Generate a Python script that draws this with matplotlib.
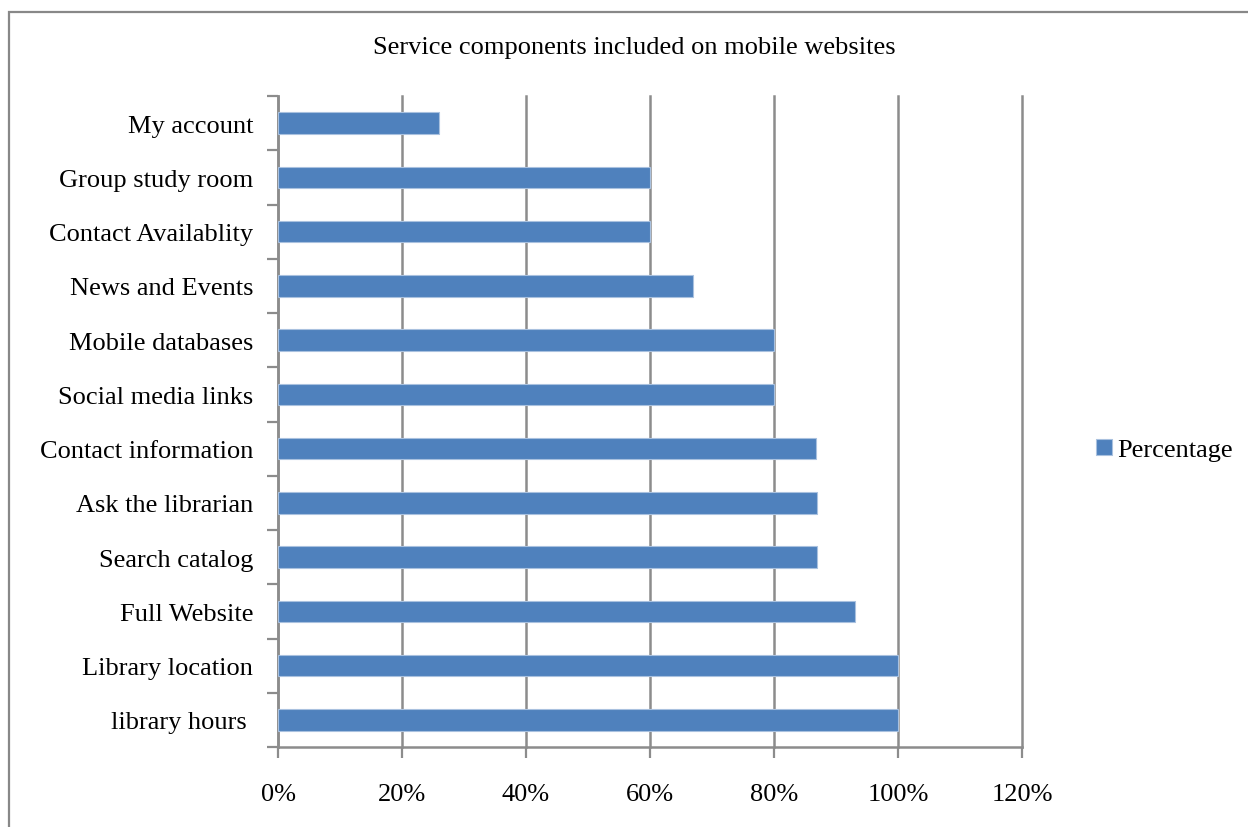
import matplotlib.pyplot as plt
from matplotlib.patches import Rectangle
from matplotlib.ticker import FuncFormatter, FixedLocator

# Componentes de serviço nos sites móveis (de baixo para cima)
components = ["library hours ", "Library location", "Full Website", "Search catalog",
              "Ask the librarian", "Contact information", "Social media links",
              "Mobile databases", "News and Events", "Contact Availablity",
              "Group study room", "My account"]
percentages = [1.00, 1.00, 0.93, 0.87, 0.87, 0.867, 0.80, 0.80, 0.67, 0.60, 0.60, 0.26]
x_ticks = [0.0, 0.2, 0.4, 0.6, 0.8, 1.0, 1.2]

plt.rcParams['font.family'] = ['Liberation Serif', 'DejaVu Serif']

fig = plt.figure(figsize=(12.48, 8.28), dpi=100)
ax = fig.add_axes([278 / 1248, 1 - 748 / 828, (1022 - 278) / 1248, (748 - 97) / 828])

# moldura cinza do gráfico
fig.patches.append(Rectangle((9 / 1248, -0.05), 1.1, 1 - 13 / 828 + 0.05,
                             transform=fig.transFigure, fill=False,
                             edgecolor="#888888", linewidth=1.6))

positions = list(range(len(components)))
ax.barh(positions, percentages, height=0.4, color="#4F81BD",
        edgecolor="#A9C1DF", linewidth=0.8, label="Percentage", zorder=3)

ax.set_xlim(0, 1.2)
ax.set_ylim(-0.5, len(components) - 0.5)
ax.set_xticks(x_ticks)
ax.xaxis.set_major_formatter(FuncFormatter(lambda v, p: f"{v * 100:.0f}%"))
ax.grid(axis="x", color="#8C8C8C", linewidth=1.8, zorder=0)
for line in ax.get_xgridlines():
    line.set_clip_on(False)

# rótulos no centro, marcas nos limites das categorias
ax.set_yticks(positions)
ax.set_yticklabels(components)
ax.yaxis.set_minor_locator(FixedLocator([p - 0.5 for p in range(len(components) + 1)]))
ax.tick_params(axis="y", which="major", length=0, pad=18, labelsize=19)
ax.tick_params(axis="y", which="minor", length=8, width=1.6, color="#8C8C8C")
ax.tick_params(axis="x", length=8, width=1.6, color="#8C8C8C", pad=18, labelsize=19)

for side in ["top", "right"]:
    ax.spines[side].set_visible(False)
for side in ["left", "bottom"]:
    ax.spines[side].set_color("#8C8C8C")
    ax.spines[side].set_linewidth(1.8)

fig.text(634 / 1248, 1 - 48 / 828, "Service components included on mobile websites",
         ha="center", va="center", fontsize=19)

ax.legend(loc="center left", bbox_to_anchor=(1083 / 1248, 1 - 451 / 828),
          bbox_transform=fig.transFigure, frameon=False, fontsize=19,
          handlelength=0.6, handleheight=0.6, handletextpad=0.2, borderpad=0)

fig.savefig("out.png", dpi=100)
